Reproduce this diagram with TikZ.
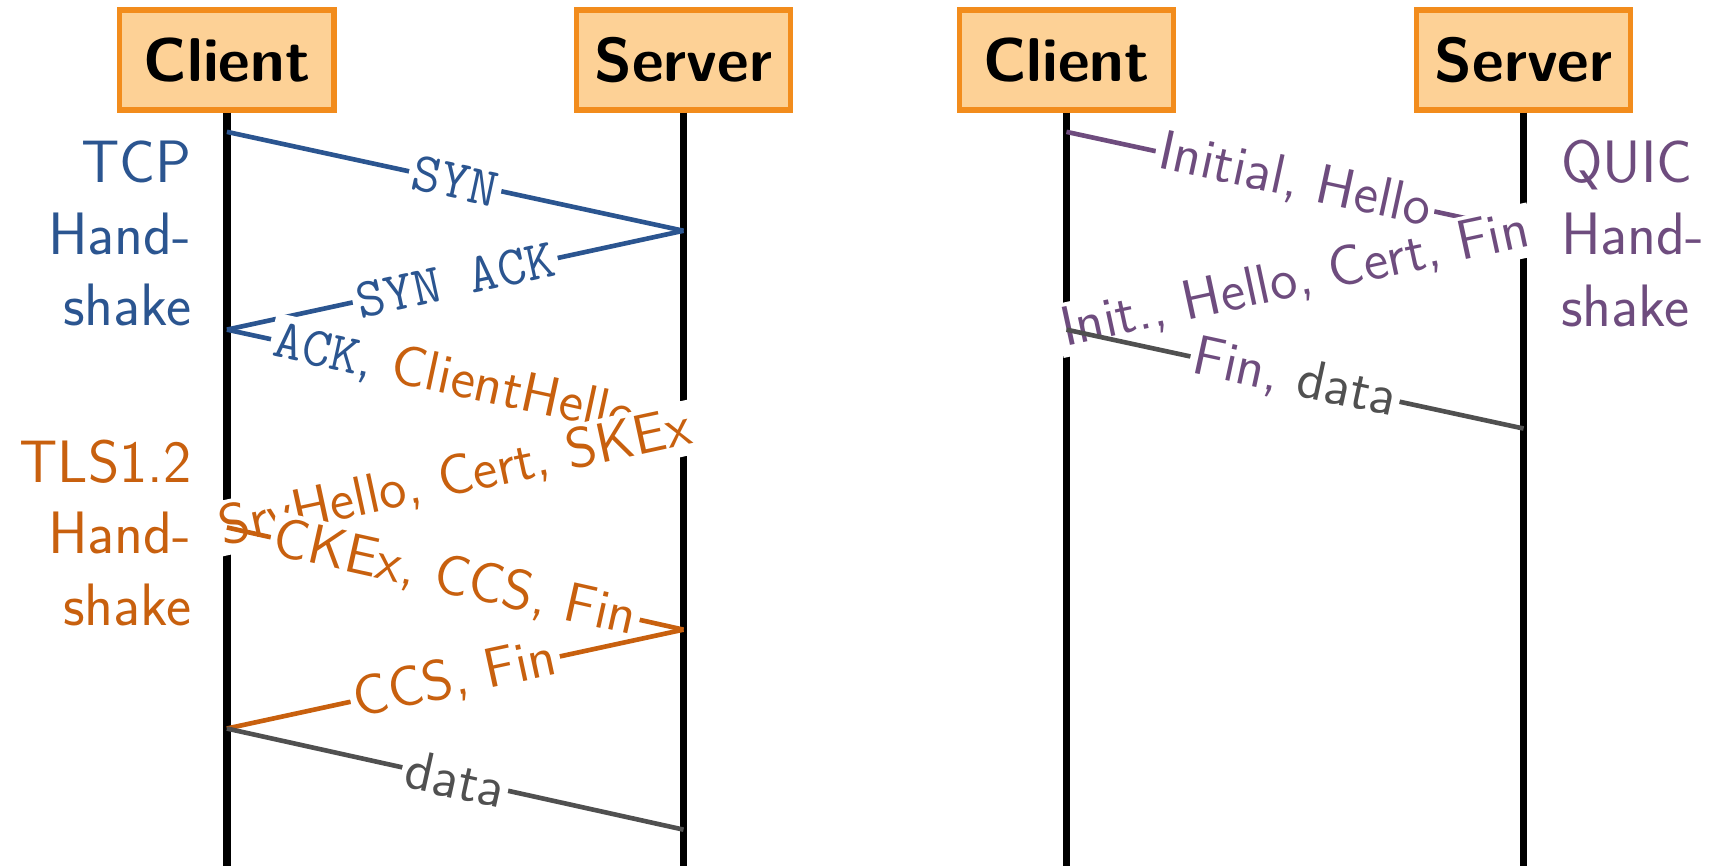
\documentclass[tikz,border=0pt]{standalone}
\usepackage{fontspec}
\usetikzlibrary{positioning}
\definecolor{tcpblue}{RGB}{43,85,144}
\definecolor{tlsorange}{RGB}{200,96,14}
\definecolor{quicpurple}{RGB}{110,76,126}
\definecolor{datagray}{RGB}{80,80,80}
\definecolor{boxfill}{RGB}{253,209,150}
\definecolor{boxdraw}{RGB}{242,140,28}
\begin{document}
\begin{tikzpicture}[
    entity/.style={draw=boxdraw, fill=boxfill, line width=1.4pt, minimum width=1.95cm, minimum height=0.91cm, font=\fontsize{16}{19}\sffamily\bfseries},
    lifeline/.style={line width=2pt},
    msg/.style={line width=1.2pt},
    msglabel/.style={fill=white, sloped, inner sep=1pt, font=\fontsize{14.5}{17}\sffamily},
    phase/.style={inner sep=0pt, font=\fontsize{15.5}{18.6}\sffamily}
]
    \useasboundingbox (0,0) rectangle (15.68,7.88);
    % Entita
    \node[entity] (client) at (2.065,7.335) {Client};
    \node[entity] (server) at (6.22,7.335) {Server};
    \node[entity] (qclient) at (9.705,7.335) {Client};
    \node[entity] (qserver) at (13.865,7.335) {Server};
    % Linee di vita
    \foreach \n in {client,server,qclient,qserver} {
        \coordinate (\n-end) at (\n |- 0,0);
        \draw[lifeline] (\n) -- (\n-end);
    }
    % Punti dei messaggi
    \foreach \i/\y in {0/6.68,1/5.78,2/4.88,3/3.98,4/3.08,5/2.15,6/1.25,7/0.33} {
        \coordinate (c\i) at (client |- 0,\y);
        \coordinate (s\i) at (server |- 0,\y);
        \coordinate (qc\i) at (qclient |- 0,\y);
        \coordinate (qs\i) at (qserver |- 0,\y);
    }
    % TCP + TLS1.2
    \draw[msg, tcpblue] (c0) -- node[msglabel] {\texttt{SYN}} (s1);
    \draw[msg, tcpblue] (s1) -- node[msglabel] {\texttt{SYN ACK}} (c2);
    \draw[msg, tcpblue] (c2) -- node[msglabel] {\texttt{ACK}, \textcolor{tlsorange}{ClientHello}} (s3);
    \draw[msg, tlsorange] (s3) -- node[msglabel] {SrvHello, Cert, SKEx} (c4);
    \draw[msg, tlsorange] (c4) -- node[msglabel] {CKEx, CCS, Fin} (s5);
    \draw[msg, tlsorange] (s5) -- node[msglabel] {CCS, Fin} (c6);
    \draw[msg, datagray] (c6) -- node[msglabel] {data} (s7);
    % QUIC
    \draw[msg, quicpurple] (qc0) -- node[msglabel] {Initial, Hello} (qs1);
    \draw[msg, quicpurple] (qs1) -- node[msglabel] {Init., Hello, Cert, Fin} (qc2);
    \draw[msg, datagray] (qc2) -- node[msglabel] {\textcolor{quicpurple}{Fin,} data} (qs3);
    % Fasi
    \node[phase, tcpblue, align=right, anchor=east] (tcp) at (1.75,5.755) {TCP\\Hand-\\shake};
    \node[phase, tlsorange, align=right, anchor=east] (tls) at (1.75,3.03) {TLS1.2\\Hand-\\shake};
    \node[phase, quicpurple, align=left, anchor=west] (quic) at (14.20,5.755) {QUIC\\Hand-\\shake};
\end{tikzpicture}
\end{document}
